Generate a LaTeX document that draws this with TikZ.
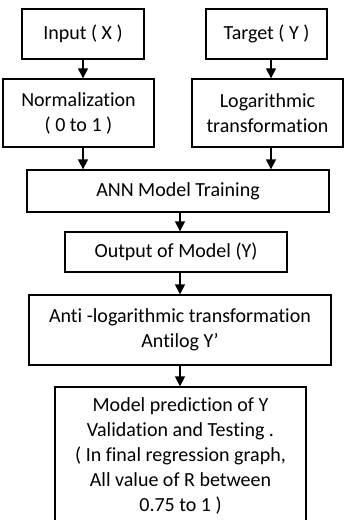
\documentclass[tikz,border=0pt]{standalone}
\usepackage{fontspec}
\setmainfont{Carlito}[Ligatures=CommonOff]
\usepackage{tikz}
\usetikzlibrary{positioning, arrows.meta, calc}

\begin{document}
\begin{tikzpicture}[
    x=1pt, y=-1pt,
    every node/.style={font=\fontsize{20}{25}\selectfont},
    block/.style={draw, line width=1.3pt, align=center, inner sep=0pt, minimum width=#1},
    arrow/.style={-{Triangle[length=10pt, width=10pt]}, line width=1.3pt},
  ]
  \useasboundingbox (0,0) rectangle (344,520);

  % ---- Inputs ----
  \node[block=122pt, minimum height=50pt] (input) at (83,34) {Input ( X )};
  \node[block=121pt, minimum height=50pt] (target) at (266.5,34) {Target ( Y )};

  % ---- Preprocessing ----
  \node[block=151pt, minimum height=68pt] (norm) at (78.5,113) {Normalization\\( 0 to 1 )};
  \node[block=151pt, minimum height=68pt] (logt) at (267.5,113) {Logarithmic\\transformation};

  % ---- Model ----
  \node[block=302pt, minimum height=42pt] (ann) at (178,191) {ANN Model Training};
  \node[block=222pt, minimum height=40pt] (output) at (176,252) {Output of Model (Y)};
  \node[block=302pt, minimum height=70pt] (antilog) at (180,330) {Anti -logarithmic transformation\\Antilog Y’};
  \node[block=251pt, minimum height=138pt] (predict) at (180.5,456) {Model prediction of Y\\Validation and Testing .\\( In final regression graph,\\All value of R between\\0.75 to 1 )};

  % ---- Arrows ----
  \draw[arrow] (input.south) -- (input.south |- norm.north);
  \draw[arrow] ([xshift=4.5pt]target.south) -- ([xshift=4.5pt]target.south |- logt.north);
  \draw[arrow] ([xshift=4.5pt]norm.south) -- ([xshift=4.5pt]norm.south |- ann.north);
  \draw[arrow] ([xshift=3.5pt]logt.south) -- ([xshift=3.5pt]logt.south |- ann.north);
  \draw[arrow] ([xshift=2pt]ann.south) -- ([xshift=2pt]ann.south |- output.north);
  \draw[arrow] ([xshift=4pt]output.south) -- ([xshift=4pt]output.south |- antilog.north);
  \draw[arrow] (antilog.south) -- (antilog.south |- predict.north);

\end{tikzpicture}
\end{document}
